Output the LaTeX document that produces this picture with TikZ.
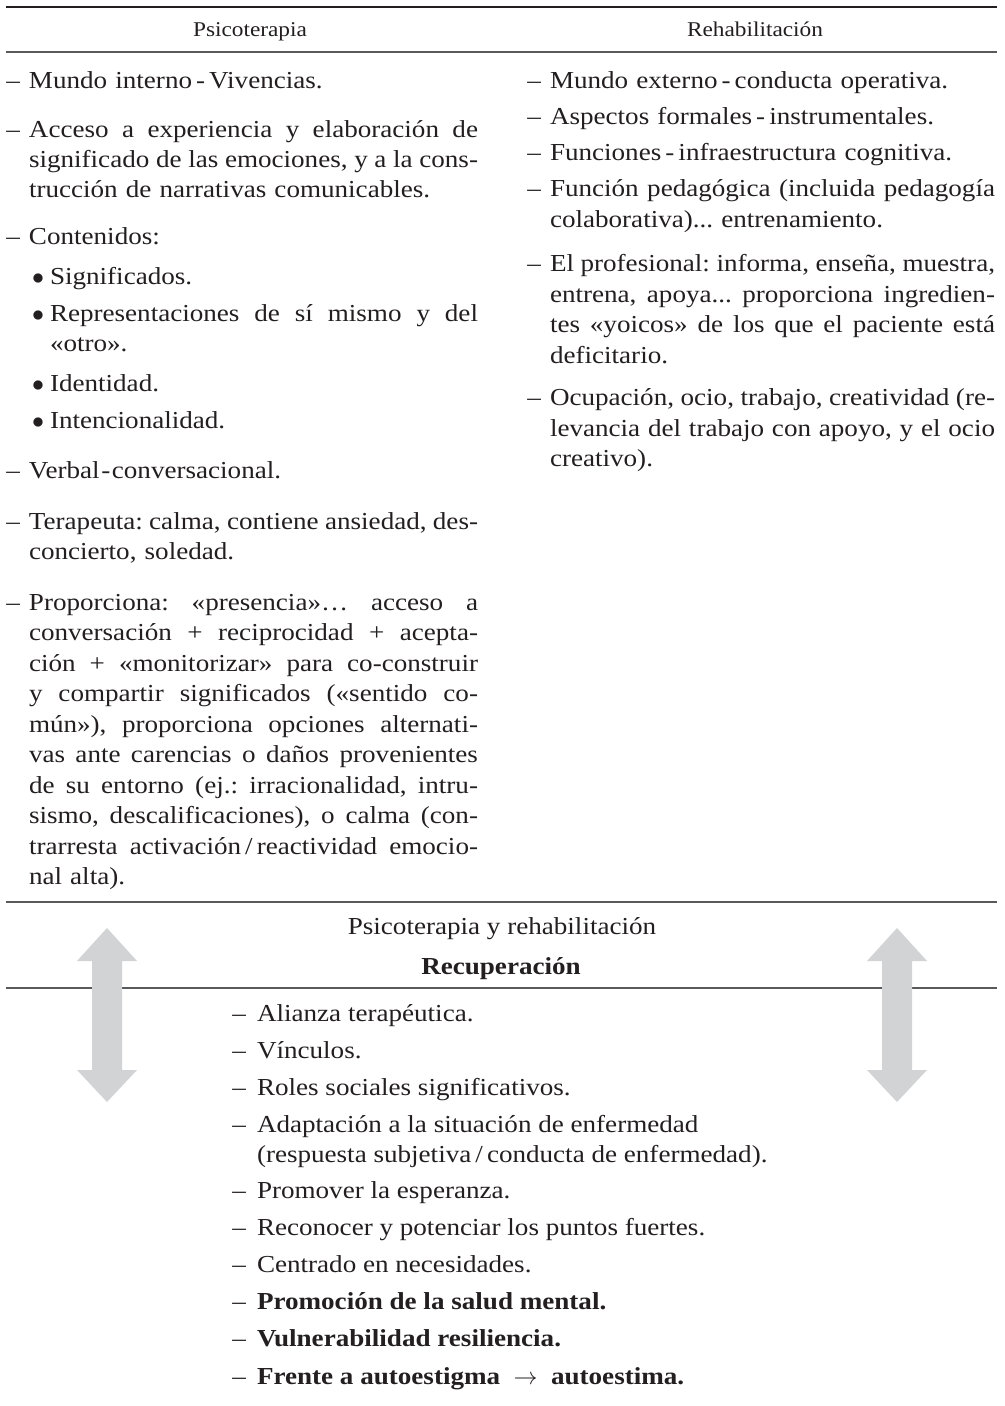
\documentclass[tikz,border=0pt]{standalone}
\usepackage{fontspec}
\setmainfont{Liberation Serif}[FakeStretch=1.11]
\definecolor{arrowgray}{HTML}{D1D3D4}
\definecolor{ink}{HTML}{231F20}
\definecolor{rulegray}{HTML}{58595B}
\newcommand{\jl}[1]{\makebox[\linewidth][s]{\spaceskip=0.25em plus 1fil minus 0.15em\xspaceskip=\spaceskip #1}}
\newcommand{\dsh}{\llap{\mdseries –\hspace{4.5pt}}}
\newcommand{\bdsh}{\llap{\mdseries –\hspace{5.5pt}}}
\newcommand{\blt}{\llap{$\bullet$\hspace{3pt}}}
\frenchspacing
\begin{document}
\frenchspacing
\begin{tikzpicture}[x=0.5pt,y=-0.5pt,
  tb/.style={inner sep=0pt,outer sep=0pt,anchor=base west,text=ink},
  body/.style={tb,font=\fontsize{12.2pt}{15pt}\selectfont},
  lcol/.style={body,text width=224.5pt,align=left},
  bcol/.style={body,text width=214pt,align=left},
  rcol/.style={tb,font=\fontsize{12.2pt}{15.25pt}\selectfont,text width=222.5pt,align=left},
  head/.style={inner sep=0pt,outer sep=0pt,anchor=base,text=ink,font=\fontsize{10.5pt}{12pt}\selectfont},
  mid/.style={inner sep=0pt,outer sep=0pt,anchor=base,text=ink,font=\fontsize{12.2pt}{15pt}\selectfont},
  boldbody/.style={body,font=\fontsize{12.2pt}{15pt}\selectfont\bfseries},
  toprule/.style={line width=1pt,draw=ink},
  midrule/.style={line width=0.65pt,draw=rulegray},
  bigarrow/.style={fill=arrowgray,draw=none}
]
\fill[white] (0,0) rectangle (1005,1406);
\useasboundingbox (0,0) rectangle (1005,1406);

% rules
\draw[toprule] (6,7) -- (997,7);
\draw[midrule] (6,52) -- (997,52);
\draw[midrule] (6,902) -- (997,902);
\draw[midrule] (6,988) -- (997,988);

% headers
\node[head] (H1) at (250,37) {Psicoterapia};
\node[head] (H2) at (755,37) {Rehabilitación};

% left column
\node[lcol] (L1) at (29,89) {\dsh Mundo interno\,-\,Vivencias.};
\node[lcol] (L2) at (29,138) {\dsh\jl{Acceso a experiencia y elaboración de}\\\jl{significado de las emociones, y a la cons-}\\trucción de narrativas comunicables.};
\node[lcol] (L3) at (29,245) {\dsh Contenidos:};
\node[bcol] (L3a) at (50,285) {\blt Significados.};
\node[bcol] (L3b) at (50,322) {\blt\jl{Representaciones de sí mismo y del}\\«otro».};
\node[bcol] (L3c) at (50,392) {\blt Identidad.};
\node[bcol] (L3d) at (50,429) {\blt Intencionalidad.};
\node[lcol] (L4) at (29,479) {\dsh Verbal\kern0.8pt-\kern0.8pt conversacional.};
\node[lcol] (L5) at (29,529) {\dsh\jl{Terapeuta: calma, contiene ansiedad, des-}\\concierto, soledad.};
\node[lcol,font=\fontsize{12.2pt}{15.25pt}\selectfont] (L6) at (29,610) {\dsh\jl{Proporciona: «presencia»… acceso a}\\\jl{conversación + reciprocidad + acepta-}\\\jl{ción + «monitorizar» para co-construir}\\\jl{y compartir significados («sentido co-}\\\jl{mún»), proporciona opciones alternati-}\\\jl{vas ante carencias o daños provenientes}\\\jl{de su entorno (ej.: irracionalidad, intru-}\\\jl{sismo, descalificaciones), o calma (con-}\\\jl{trarresta activación\,/\,reactividad emocio-}\\nal alta).};

% right column
\node[rcol] (R1) at (550,89) {\dsh Mundo externo\,-\,conducta operativa.};
\node[rcol] (R2) at (550,125) {\dsh Aspectos formales\,-\,instrumentales.};
\node[rcol] (R3) at (550,161) {\dsh Funciones\,-\,infraestructura cognitiva.};
\node[rcol] (R4) at (550,197) {\dsh\jl{Función pedagógica (incluida pedagogía}\\colaborativa)... entrenamiento.};
\node[rcol] (R5) at (550,272) {\dsh\jl{El profesional: informa, enseña, muestra,}\\\jl{entrena, apoya... proporciona ingredien-}\\\jl{tes «yoicos» de los que el paciente está}\\deficitario.};
\node[rcol] (R6) at (550,406) {\dsh\jl{Ocupación, ocio, trabajo, creatividad (re-}\\\jl{levancia del trabajo con apoyo, y el ocio}\\creativo).};

% middle header
\node[mid] (M1) at (502,934) {Psicoterapia y rehabilitación};
\node[mid,font=\fontsize{12.2pt}{15pt}\selectfont\bfseries] (M2) at (501,974) {Recuperación};

% arrows
\fill[bigarrow] (107,928) -- (137,961) -- (122,961) -- (122,1070) -- (137,1070) -- (107,1102) -- (77,1070) -- (92,1070) -- (92,961) -- (77,961) -- cycle;
\fill[bigarrow] (897,928) -- (927,961) -- (912,961) -- (912,1070) -- (927,1070) -- (897,1102) -- (867,1070) -- (882,1070) -- (882,961) -- (867,961) -- cycle;

% bottom list
\node[body] (B1) at (257,1021) {\bdsh Alianza terapéutica.};
\node[body] (B2) at (257,1058) {\bdsh Vínculos.};
\node[body] (B3) at (257,1095) {\bdsh Roles sociales significativos.};
\node[body] (B4) at (257,1132) {\bdsh Adaptación a la situación de enfermedad};
\node[body] (B4b) at (257,1162) {(respuesta subjetiva\,/\,conducta de enfermedad).};
\node[body] (B5) at (257,1198) {\bdsh Promover la esperanza.};
\node[body] (B6) at (257,1235) {\bdsh Reconocer y potenciar los puntos fuertes.};
\node[body] (B7) at (257,1272) {\bdsh Centrado en necesidades.};
\node[boldbody] (B8) at (257,1309) {\bdsh Promoción de la salud mental.};
\node[boldbody] (B9) at (257,1346) {\bdsh Vulnerabilidad resiliencia.};
\node[boldbody] (B10) at (257,1384) {\bdsh Frente a autoestigma $\;\rightarrow\;$ autoestima.};
\end{tikzpicture}
\end{document}
